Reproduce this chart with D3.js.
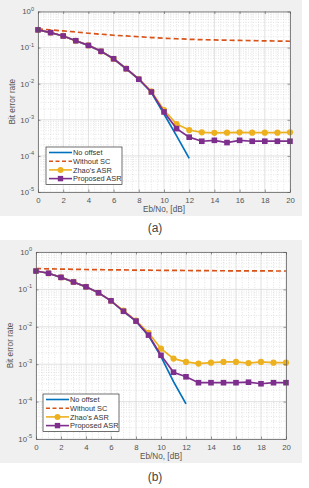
<!DOCTYPE html>
<html>
<head>
<meta charset="utf-8">
<script src="https://d3js.org/d3.v7.min.js"></script>
<style>
body { margin: 0; background: #fff; }
svg { display: block; font-family: "Liberation Sans", Arial, sans-serif; }
.grid-major { stroke: #d9d9d9; stroke-width: 0.8; }
.grid-minor { stroke: #d4d4d4; stroke-width: 0.6; stroke-dasharray: 1,1.5; }
</style>
</head>
<body>
<div id="chart"></div>
<script>
// Eb/No axis (dB)
var ebno = [0,1,2,3,4,5,6,7,8,9,10,11,12,13,14,15,16,17,18,19,20];
var ebnoNoOffset = [0,1,2,3,4,5,6,7,8,9,10,11,12];
var xTicks = [0,2,4,6,8,10,12,14,16,18,20];
var yTicks = [1e0,1e-1,1e-2,1e-3,1e-4,1e-5];
var legendNames = ["No offset", "Without SC", "Zhao's ASR", "Proposed ASR"];

// panel (a)
var noOffsetA = [0.31,0.26,0.21,0.155,0.115,0.079,0.049,0.026,0.0133,0.0057,0.00145,0.00036,0.000085];
var withoutScA = [0.33,0.31,0.29,0.27,0.25,0.235,0.22,0.21,0.2,0.19,0.182,0.176,0.17,0.166,0.163,0.16,0.158,0.156,0.154,0.152,0.15];
var zhaoA = [0.31,0.26,0.21,0.155,0.115,0.079,0.049,0.026,0.0135,0.0061,0.00186,0.00076,0.00052,0.00045,0.000435,0.00044,0.00045,0.00044,0.00044,0.00044,0.00045];
var proposedA = [0.31,0.26,0.21,0.155,0.115,0.079,0.049,0.026,0.0133,0.0059,0.00165,0.00057,0.00033,0.000255,0.00027,0.000234,0.00027,0.000255,0.000255,0.000255,0.000255];

// panel (b)
var noOffsetB = [0.31,0.27,0.21,0.158,0.117,0.081,0.0495,0.026,0.0142,0.0058,0.0016,0.00034,0.000087];
var withoutScB = [0.36,0.355,0.35,0.345,0.34,0.337,0.334,0.331,0.328,0.326,0.324,0.322,0.32,0.318,0.316,0.315,0.314,0.313,0.312,0.311,0.31];
var zhaoB = [0.31,0.27,0.21,0.158,0.117,0.081,0.0495,0.027,0.0146,0.0069,0.0026,0.00141,0.00115,0.00104,0.0011,0.00115,0.00115,0.00107,0.00115,0.0011,0.0011];
var proposedB = [0.31,0.27,0.21,0.158,0.117,0.081,0.0495,0.026,0.0142,0.006,0.00173,0.00061,0.00046,0.00032,0.00032,0.00032,0.00032,0.00033,0.0003,0.00032,0.00032];

var colors = {blue: "#0072BD", orange: "#D95319", yellow: "#EDB120", purple: "#7E2F8E"};

var svg = d3.select("#chart").append("svg")
  .attr("width", 309).attr("height", 488);

function drawPanel(p, series) {
  var g = svg.append("g");
  g.append("rect").attr("x", 0).attr("y", p.bgTop).attr("width", 302)
    .attr("height", p.bgBottom - p.bgTop).attr("fill", "#f0f0f0");

  var x = d3.scaleLinear().domain([0, 20]).range([p.left, p.right]);
  var y = d3.scaleLog().domain([1e-5, 1]).range([p.bottom, p.top]);

  g.append("rect").attr("x", p.left).attr("y", p.top)
    .attr("width", p.right - p.left).attr("height", p.bottom - p.top).attr("fill", "#fff");

  // minor grid
  var minorX = d3.range(0, 20.01, 0.5).filter(function(v){ return v % 2 !== 0; });
  g.selectAll(".mx").data(minorX).enter().append("line").attr("class", "grid-minor")
    .attr("x1", x).attr("x2", x).attr("y1", p.top).attr("y2", p.bottom);
  var minorY = [];
  for (var e = -5; e < 0; e++) for (var k = 2; k <= 9; k++) minorY.push(k * Math.pow(10, e));
  g.selectAll(".my").data(minorY).enter().append("line").attr("class", "grid-minor")
    .attr("y1", y).attr("y2", y).attr("x1", p.left).attr("x2", p.right);
  // major grid
  g.selectAll(".gx").data(xTicks).enter().append("line").attr("class", "grid-major")
    .attr("x1", x).attr("x2", x).attr("y1", p.top).attr("y2", p.bottom);
  g.selectAll(".gy").data(yTicks).enter().append("line").attr("class", "grid-major")
    .attr("y1", y).attr("y2", y).attr("x1", p.left).attr("x2", p.right);

  var line = d3.line().x(function(d){ return x(d[0]); }).y(function(d){ return y(d[1]); });
  function pairs(xs, ys){ return xs.map(function(v, i){ return [v, ys[i]]; }); }

  g.append("path").datum(pairs(ebnoNoOffset, series.noOffset)).attr("d", line)
    .attr("fill", "none").attr("stroke", colors.blue).attr("stroke-width", 1.7);
  g.append("path").datum(pairs(ebno, series.withoutSc)).attr("d", line)
    .attr("fill", "none").attr("stroke", colors.orange).attr("stroke-width", 1.7)
    .attr("stroke-dasharray", "5,3");
  var zd = pairs(ebno, series.zhao);
  g.append("path").datum(zd).attr("d", line)
    .attr("fill", "none").attr("stroke", colors.yellow).attr("stroke-width", 1.7);
  g.selectAll(".zm").data(zd).enter().append("circle")
    .attr("cx", function(d){ return x(d[0]); }).attr("cy", function(d){ return y(d[1]); })
    .attr("r", 3.1).attr("fill", colors.yellow);
  var pd = pairs(ebno, series.proposed);
  g.append("path").datum(pd).attr("d", line)
    .attr("fill", "none").attr("stroke", colors.purple).attr("stroke-width", 1.7);
  g.selectAll(".pm").data(pd).enter().append("rect")
    .attr("x", function(d){ return x(d[0]) - 2.8; }).attr("y", function(d){ return y(d[1]) - 2.8; })
    .attr("width", 5.6).attr("height", 5.6).attr("fill", colors.purple);

  // axes box and ticks
  var ax = d3.axisBottom(x).tickValues(xTicks).tickSize(-2.5).tickSizeOuter(0).tickPadding(5);
  var axT = d3.axisTop(x).tickValues(xTicks).tickSize(-2.5).tickSizeOuter(0).tickFormat("");
  var ay = d3.axisLeft(y).tickValues(yTicks).tickSize(-2.5).tickSizeOuter(0).tickFormat("");
  var ayR = d3.axisRight(y).tickValues(yTicks).tickSize(-2.5).tickSizeOuter(0).tickFormat("");
  [g.append("g").attr("transform", "translate(0," + p.bottom + ")").call(ax),
   g.append("g").attr("transform", "translate(0," + p.top + ")").call(axT),
   g.append("g").attr("transform", "translate(" + p.left + ",0)").call(ay),
   g.append("g").attr("transform", "translate(" + p.right + ",0)").call(ayR)].forEach(function(a){
    a.select(".domain").attr("stroke", "#555").attr("stroke-width", 0.7);
    a.selectAll(".tick line").attr("stroke", "#555").attr("stroke-width", 0.6);
    a.selectAll("text").attr("fill", "#555").attr("font-size", 7.8);
  });

  // y tick labels 10^n
  yTicks.forEach(function(v){
    var t = g.append("text").attr("x", p.left - 4).attr("y", y(v) + 2.8)
      .attr("text-anchor", "end").attr("fill", "#555").attr("font-size", 7.8);
    t.append("tspan").text("10");
    t.append("tspan").attr("dy", -3.8).attr("font-size", 5.6).text(Math.round(Math.log10(v)));
  });

  g.append("text").attr("transform", "translate(" + (p.left - 23) + "," + ((p.top + p.bottom) / 2) + ") rotate(-90)")
    .attr("text-anchor", "middle").attr("fill", "#555").attr("font-size", 8.2).text("Bit error rate");
  g.append("text").attr("x", (p.left + p.right) / 2).attr("y", p.bottom + 19.5)
    .attr("text-anchor", "middle").attr("fill", "#555").attr("font-size", 8.2).text("Eb/No, [dB]");

  // legend
  var lg = g.append("g").attr("transform", "translate(" + p.legX + "," + p.legY + ")");
  lg.append("rect").attr("width", 76).attr("height", 37.5).attr("fill", "#fff")
    .attr("stroke", "#333").attr("stroke-width", 0.7);
  var styles = [
    {c: colors.blue}, {c: colors.orange, dash: "4,2.5"},
    {c: colors.yellow, m: "circle"}, {c: colors.purple, m: "square"}];
  styles.forEach(function(s, i){
    var yy = 5.5 + i * 8.7;
    lg.append("line").attr("x1", 3).attr("x2", 26).attr("y1", yy).attr("y2", yy)
      .attr("stroke", s.c).attr("stroke-width", 1.6).attr("stroke-dasharray", s.dash || null);
    if (s.m === "circle") lg.append("circle").attr("cx", 14.5).attr("cy", yy).attr("r", 3).attr("fill", s.c);
    if (s.m === "square") lg.append("rect").attr("x", 11.8).attr("y", yy - 2.7).attr("width", 5.4).attr("height", 5.4).attr("fill", s.c);
    lg.append("text").attr("x", 27).attr("y", yy + 2.6).attr("font-size", 7.4).attr("fill", "#333").text(legendNames[i]);
  });

  svg.append("text").attr("x", 155).attr("y", p.capY).attr("text-anchor", "middle")
    .attr("font-size", 12).attr("fill", "#444").text(p.caption);
}

drawPanel({left: 38, right: 290, top: 11.5, bottom: 192, bgTop: 0, bgBottom: 216,
  legX: 46, legY: 147, capY: 232, caption: "(a)"},
  {noOffset: noOffsetA, withoutSc: withoutScA, zhao: zhaoA, proposed: proposedA});
drawPanel({left: 36, right: 286, top: 252, bottom: 439, bgTop: 240, bgBottom: 463,
  legX: 43, legY: 394, capY: 481, caption: "(b)"},
  {noOffset: noOffsetB, withoutSc: withoutScB, zhao: zhaoB, proposed: proposedB});
</script>
</body>
</html>
